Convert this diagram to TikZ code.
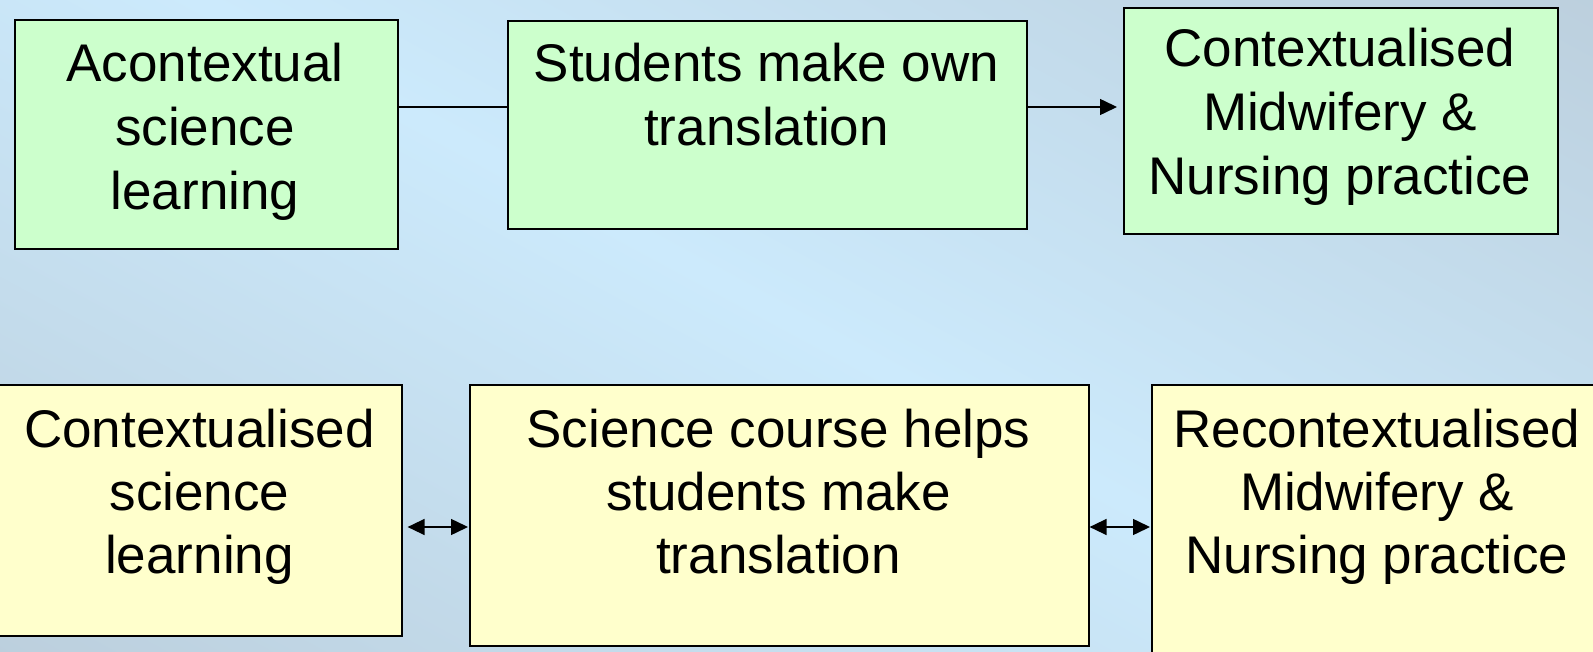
\documentclass[tikz,border=0pt]{standalone}
\usepackage{fontspec}
\setmainfont{Liberation Sans}
\usetikzlibrary{arrows.meta}
\definecolor{bglight}{RGB}{204,234,252}
\definecolor{bgedge}{RGB}{188,207,221}
\definecolor{gfill}{HTML}{CCFFCC}
\definecolor{yfill}{HTML}{FFFFCC}
\pgfdeclareverticalshading{bgshade}{100bp}{color(0bp)=(bgedge); color(33bp)=(bgedge); color(50bp)=(bglight); color(67bp)=(bgedge); color(100bp)=(bgedge)}
\begin{document}
\begin{tikzpicture}[x=1pt,y=-1pt,
  box/.style={draw=black, line width=1.6pt, inner sep=0pt, anchor=north west},
  gbox/.style={box, fill=gfill},
  ybox/.style={box, fill=yfill},
  txt/.style={anchor=base, inner sep=0pt, font=\fontsize{53}{64}\selectfont},
  txtb/.style={anchor=base, inner sep=0pt, font=\fontsize{53}{63}\selectfont},
  conn/.style={draw=black, line width=1.5pt},
  tip/.tip={Triangle[length=17pt,width=16pt]}]
\useasboundingbox (0,0) rectangle (1593,652);
\clip (0,0) rectangle (1593,652);
\shade[shading=bgshade, shading angle=-28.4] (-246,-700) rectangle (1754,1300);
% top row
\node[gbox, minimum width=383pt, minimum height=229pt] (b1) at (14,19) {};
\node[gbox, minimum width=519pt, minimum height=208pt] (b2) at (507,20) {};
\node[gbox, minimum width=434pt, minimum height=226pt] (b3) at (1123,7) {};
% bottom row
\node[ybox, minimum width=403pt, minimum height=251pt] (b4) at (-2,384) {};
\node[ybox, minimum width=619pt, minimum height=261pt] (b5) at (469,384) {};
\node[ybox, minimum width=455pt, minimum height=280pt] (b6) at (1151,384) {};
% texts
\node[txt] (t1) at (205,82) {\begin{tabular}[t]{@{}c@{}}Acontextual\\science\\learning\end{tabular}};
\node[txt] (t2) at (766.5,82) {\begin{tabular}[t]{@{}c@{}}Students make own\\translation\end{tabular}};
\node[txt] (t3) at (1340,67) {\begin{tabular}[t]{@{}c@{}}Contextualised\\Midwifery \&\\Nursing practice\end{tabular}};
\node[txtb] (t4) at (199.5,447) {\begin{tabular}[t]{@{}c@{}}Contextualised\\science\\learning\end{tabular}};
\node[txtb] (t5) at (778.5,447) {\begin{tabular}[t]{@{}c@{}}Science course helps\\students make\\translation\end{tabular}};
\node[txtb] (t6) at (1377,447) {\begin{tabular}[t]{@{}c@{}}Recontextualised\\Midwifery \&\\Nursing practice\end{tabular}};
% connectors
\coordinate (ytop) at (0,107);
\coordinate (ybot) at (0,527);
\draw[conn] (b1.east |- ytop) -- (b2.west |- ytop);
\draw[conn, -tip, shorten >=6pt] (b2.east |- ytop) -- (b3.west |- ytop);
\draw[conn, tip-tip, shorten <=5pt, shorten >=1pt] (b4.east |- ybot) -- (b5.west |- ybot);
\draw[conn, tip-tip, shorten <=0pt, shorten >=1pt] (b5.east |- ybot) -- (b6.west |- ybot);
\end{tikzpicture}
\end{document}
